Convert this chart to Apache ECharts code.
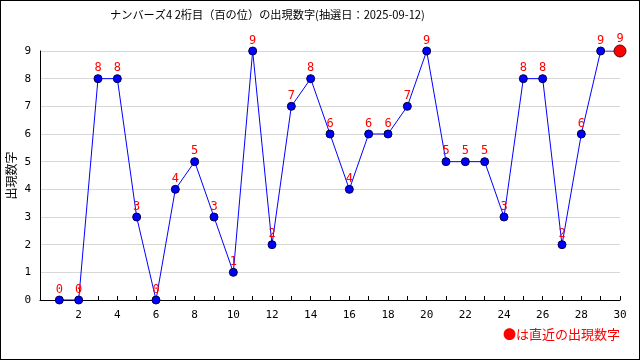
<!DOCTYPE html>
<html><head><meta charset="utf-8">
<script src="https://cdn.jsdelivr.net/npm/echarts@6/dist/echarts.min.js"></script>
<style>html,body{margin:0;padding:0;background:#fff}#c{width:638px;height:358px;border:1px solid #000}</style>
</head><body><div id="c"></div>
<script>
const titleText = 'ナンバーズ4 2桁目（百の位）の出現数字(抽選日：2025-09-12)';
const yAxisName = '出現数字';
const legendNote = '●は直近の出現数字';
const draws = [1,2,3,4,5,6,7,8,9,10,11,12,13,14,15,16,17,18,19,20,21,22,23,24,25,26,27,28,29,30];
const digits = [0,0,8,8,3,0,4,5,3,1,9,2,7,8,6,4,6,6,7,9,5,5,5,3,8,8,2,6,9,9];
const xTicks = [2,4,6,8,10,12,14,16,18,20,22,24,26,28,30];

const font = "'DejaVu Sans Mono','Noto Sans CJK JP',monospace";
const cjk = "'Noto Sans CJK JP',sans-serif";
const data = draws.map((d,i)=>{
  const item = {value:[d,digits[i]]};
  if(i===draws.length-1){ item.symbolSize=12; item.itemStyle={color:'#ff0000',borderColor:'#600000',borderWidth:1}; }
  return item;
});
const chart = echarts.init(document.getElementById('c'));
chart.setOption({
  animation:false,
  textStyle:{fontFamily:font},
  title:{text:titleText,left:104,top:3,textStyle:{fontSize:11.2,fontWeight:'normal',color:'#000',fontFamily:cjk}},
  graphic:[{type:'text',right:19,bottom:18,style:{text:legendNote,fill:'#ff0000',font:"13px 'Noto Sans CJK JP',sans-serif"}}],
  grid:{left:39,right:19,top:50,bottom:59,outerBoundsMode:'none',containLabel:false},
  xAxis:{type:'value',min:0,max:30,interval:2,
    axisLine:{lineStyle:{color:'#000'}},
    axisTick:{inside:true,length:4,lineStyle:{color:'#000'}},
    minorTick:{show:true,splitNumber:2,length:4,lineStyle:{color:'#000'}},
    splitLine:{show:false},
    axisLabel:{color:'#000',fontSize:11,margin:10,formatter:v=>xTicks.includes(v)?String(v):''}},
  yAxis:{type:'value',min:0,max:9,interval:1,name:yAxisName,nameLocation:'middle',nameGap:23,nameMoveOverlap:false,
    nameTextStyle:{color:'#000',fontSize:12,fontFamily:cjk},
    axisLine:{show:true,lineStyle:{color:'#000'}},axisTick:{show:false},
    splitLine:{lineStyle:{color:'#d8d8d8'}},
    axisLabel:{color:'#000',fontSize:11,margin:9}},
  series:[{type:'line',data:data,symbol:'circle',symbolSize:8,
    lineStyle:{color:'#0000ff',width:1},
    itemStyle:{color:'#0000ff',borderColor:'#000040',borderWidth:1},
    label:{show:true,position:'top',distance:0,color:'#ff0000',fontSize:12,formatter:p=>String(p.value[1])}}]
});
</script></body></html>
